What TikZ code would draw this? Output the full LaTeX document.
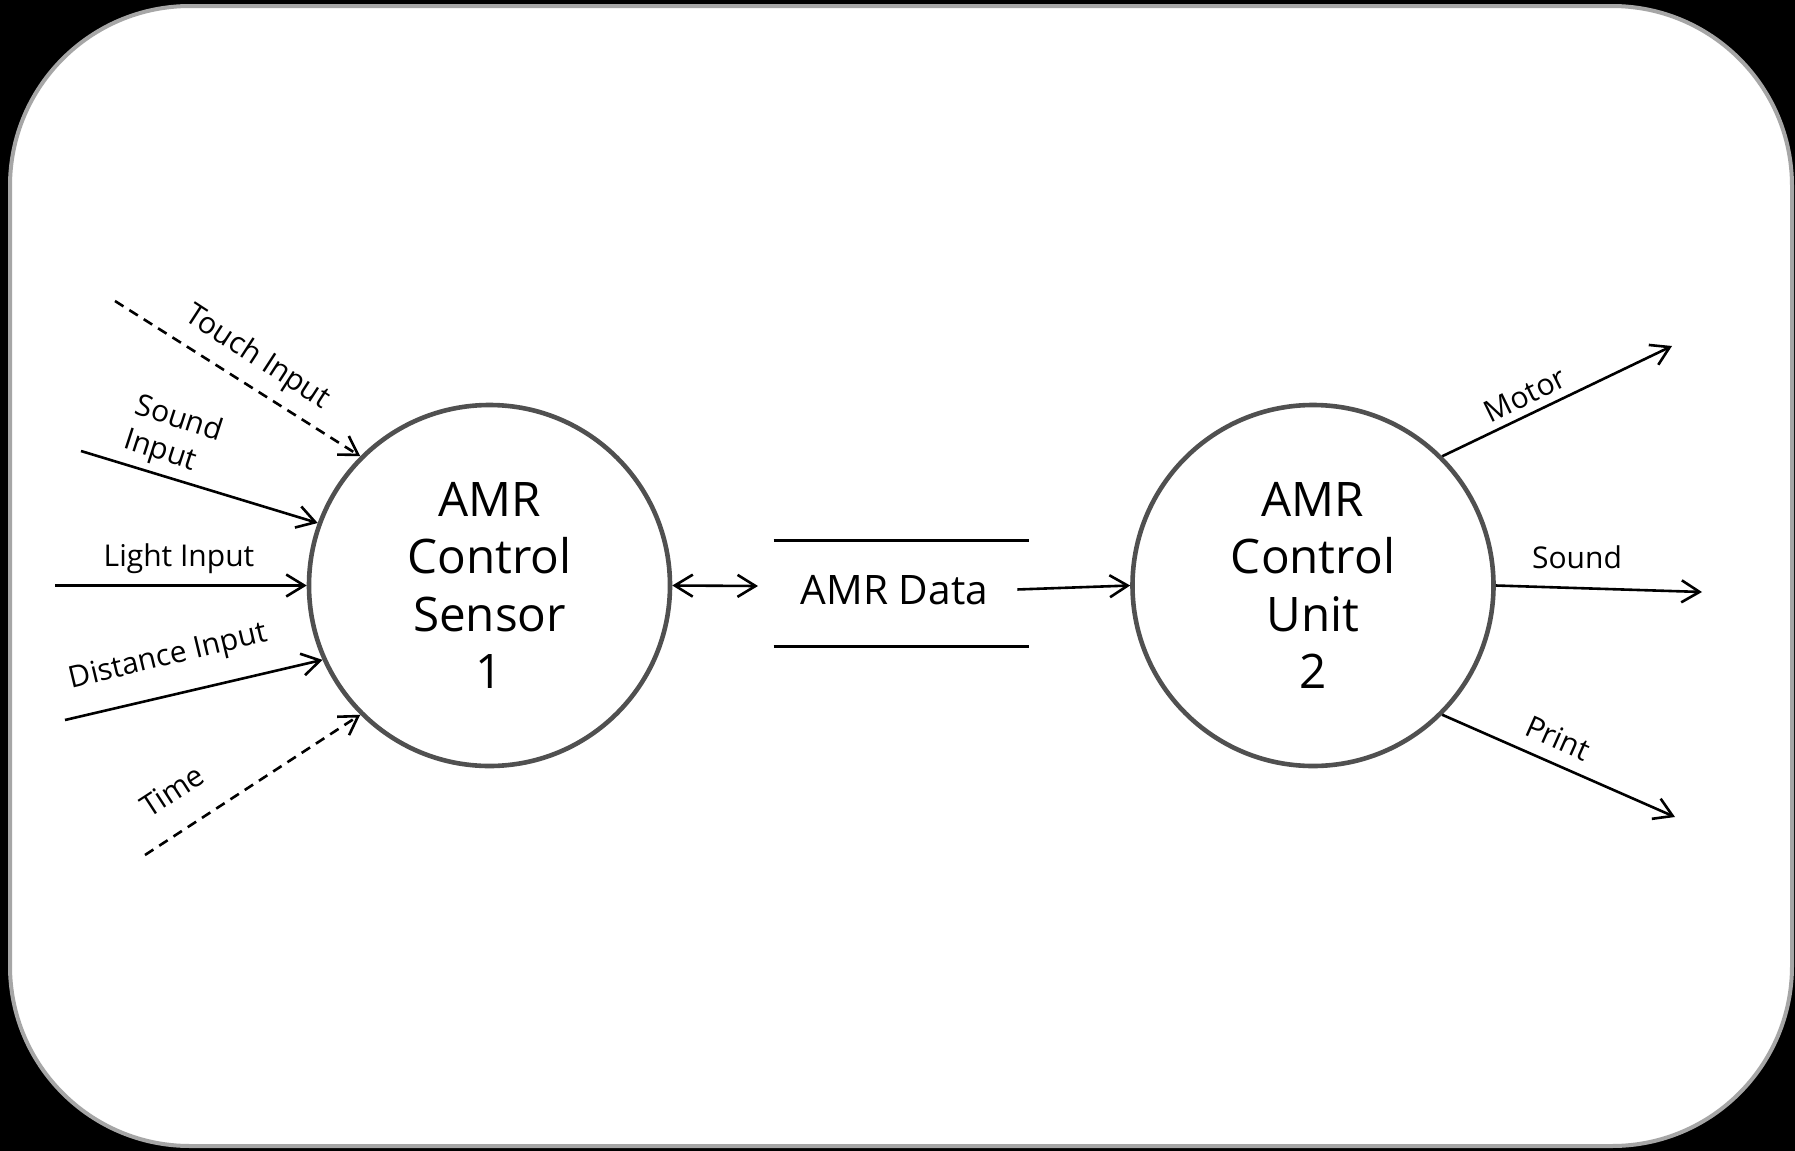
\documentclass[tikz,border=0pt]{standalone}
\usepackage{fontspec}
\setmainfont{Open Sans}
\usetikzlibrary{arrows.meta}
\definecolor{circgray}{RGB}{80,80,80}
\definecolor{framegray}{RGB}{166,166,166}
\begin{document}
\begin{tikzpicture}[x=0.5pt,y=-0.5pt,
  proc/.style={circle, draw=circgray, line width=2.3pt, minimum size=180.5pt, inner sep=0pt, align=center, font=\fontsize{23.8}{28.7}\selectfont},
  flow/.style={line width=1.3pt, -{Straight Barb[length=9pt,width=11pt]}},
  bothflow/.style={line width=1.3pt, {Straight Barb[length=9pt,width=11pt]}-{Straight Barb[length=9pt,width=11pt]}},
  dflow/.style={flow, dash pattern=on 5pt off 3.5pt},
  lbl/.style={font=\fontsize{15}{18}\selectfont, inner sep=0pt},
  storeline/.style={line width=1.3pt},
]
\useasboundingbox (0,0) rectangle (1795,1151);
\fill[black] (0,0) rectangle (1795,1151);
\draw[framegray, line width=2pt, fill=white, rounded corners=90pt] (10,6) rectangle (1792,1146);

% processes
\node[proc] (c1) at (489.5,585.5) {AMR\\Control\\Sensor\\1};
\node[proc] (c2) at (1313,585.5) {AMR\\Control\\Unit\\2};

% data store
\node[minimum width=127.5pt, minimum height=52.5pt, inner sep=0pt] (store) at (901.5,593.5) {};
\draw[storeline] (store.north west) -- (store.north east);
\draw[storeline] (store.south west) -- (store.south east);
\node[font=\fontsize{20.3}{24}\selectfont, inner sep=0pt] (data) at (894.5,590.5) {AMR Data};

\coordinate (dl) at (758,586);
\draw[bothflow] (c1.east) -- (dl);
\draw[flow, shorten <=14.5pt] (data.east) -- (c2.west);

% inputs
\coordinate (tin) at (115,301);
\coordinate (sin) at (81,451);
\coordinate (lin) at (55,585.5);
\coordinate (din) at (65,720);
\coordinate (tmin) at (145,855);
\draw[dflow] (tin) -- (c1.135);
\draw[flow] (sin) -- (c1.160);
\draw[flow] (lin) -- (c1.west);
\draw[flow] (din) -- (c1.204);
\draw[dflow] (tmin) -- (c1.225);

\node[lbl, rotate=-33] (lt) at (257,358) {Touch Input};
\node[lbl, rotate=-18, align=left] (ls) at (173,437) {Sound\\Input};
\node[lbl, anchor=base] (ll) at (179,566) {Light Input};
\node[lbl, rotate=13.5] (ld) at (168.5,657.5) {Distance Input};
\node[lbl, rotate=33] (ltm) at (172,791) {Time};

% outputs
\coordinate (mo) at (1672,346);
\coordinate (so) at (1702,592);
\coordinate (po) at (1675,817);
\draw[flow] (c2.45) -- (mo);
\draw[flow] (c2.east) -- (so);
\draw[flow] (c2.-45) -- (po);

\node[lbl, rotate=26] (lm) at (1525,395) {Motor};
\node[lbl, anchor=base] (lso) at (1577,568) {Sound};
\node[lbl, rotate=-24] (lp) at (1558,738) {Print};
\end{tikzpicture}
\end{document}
